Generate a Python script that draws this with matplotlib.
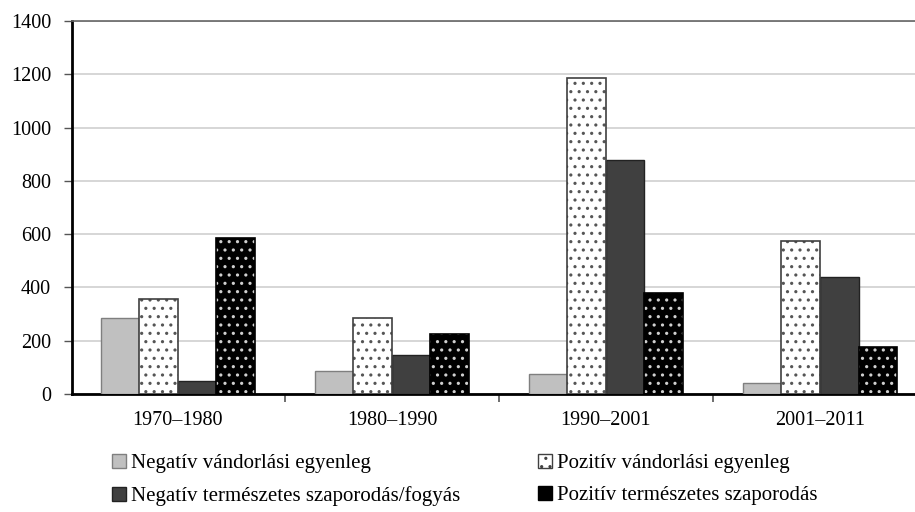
import matplotlib
matplotlib.use("Agg")
import matplotlib.pyplot as plt
import numpy as np
from matplotlib.patches import Patch

plt.rcParams['font.family'] = ['Liberation Serif', 'DejaVu Serif']
plt.rcParams['hatch.linewidth'] = 1.1

categories = ["1970–1980", "1980–1990", "1990–2001", "2001–2011"]
neg_vandorlas = [285, 85, 75, 40]
poz_vandorlas = [355, 285, 1185, 575]
neg_termeszetes = [50, 145, 880, 440]
poz_termeszetes = [585, 225, 380, 175]
labels = ["Negatív vándorlási egyenleg", "Pozitív vándorlási egyenleg",
          "Negatív természetes szaporodás/fogyás", "Pozitív természetes szaporodás"]
yticks = [0, 200, 400, 600, 800, 1000, 1200, 1400]

W, H = 915, 512
fig = plt.figure(figsize=(W / 100, H / 100), dpi=100)
ax = fig.add_axes([72 / W, (H - 394) / H, (915 - 72) / W, (394 - 21) / H])

x = np.arange(len(categories))
bw = 0.18
offs = [-1.5 * bw, -0.5 * bw, 0.5 * bw, 1.5 * bw]

# Negatív vándorlási: light gray
ax.bar(x + offs[0], neg_vandorlas, bw, color="#c0c0c0", edgecolor="#7f7f7f", linewidth=1.0, zorder=3)
# Pozitív vándorlási: white with dark dots
ax.bar(x + offs[1], poz_vandorlas, bw, color="white", edgecolor="#555555", hatch="..", linewidth=0, zorder=3)
ax.bar(x + offs[1], poz_vandorlas, bw, fill=False, edgecolor="#404040", linewidth=1.2, zorder=4)
# Negatív természetes: dark gray
ax.bar(x + offs[2], neg_termeszetes, bw, color="#404040", edgecolor="#222222", linewidth=1.0, zorder=3)
# Pozitív természetes: black with light dots
ax.bar(x + offs[3], poz_termeszetes, bw, color="black", edgecolor="#d0d0d0", hatch="..", linewidth=0, zorder=3)
ax.bar(x + offs[3], poz_termeszetes, bw, fill=False, edgecolor="black", linewidth=1.2, zorder=4)

ax.set_xlim(-0.495, 3.444)
ax.set_ylim(0, 1400)
ax.set_yticks(yticks)
ax.set_yticklabels([str(v) for v in yticks])
ax.yaxis.grid(True, color="#d0d0d0", linewidth=1.2, zorder=0)
ax.set_axisbelow(True)

ax.set_xticks(x)
ax.set_xticklabels(categories)
ax.set_xticks([0.5, 1.5, 2.5], minor=True)
ax.tick_params(axis='x', which='major', length=0, pad=12, labelsize=14.5)
ax.tick_params(axis='x', which='minor', length=6, width=1.2, color="#555555", direction='out')
ax.tick_params(axis='y', length=6, width=1.0, color="#555555", pad=9, labelsize=14.5)

ax.spines["right"].set_visible(False)
ax.spines["top"].set_color("#666666")
ax.spines["top"].set_linewidth(1.2)
ax.spines["left"].set_linewidth(2)
ax.spines["bottom"].set_linewidth(2)

h_nv = Patch(facecolor="#c0c0c0", edgecolor="#7f7f7f", linewidth=1.0)
h_pv = Patch(facecolor="white", edgecolor="#404040", hatch="..", linewidth=1.0)
h_nt = Patch(facecolor="#404040", edgecolor="#222222", linewidth=1.0)
h_pt = Patch(facecolor="black", edgecolor="black", linewidth=1.0)

leg_kw = dict(frameon=False, fontsize=15, handlelength=0.65, handleheight=0.65,
              handletextpad=0.25, labelspacing=0.62, borderaxespad=0, borderpad=0)
leg1 = fig.legend([h_nv, h_nt], [labels[0], labels[2]], loc="upper left",
                  bbox_to_anchor=(112 / W, 1 - 454 / H), **leg_kw)
leg2 = fig.legend([h_pv, h_pt], [labels[1], labels[3]], loc="upper left",
                  bbox_to_anchor=(538 / W, 1 - 454 / H), **leg_kw)

fig.savefig("out.png", dpi=100)
